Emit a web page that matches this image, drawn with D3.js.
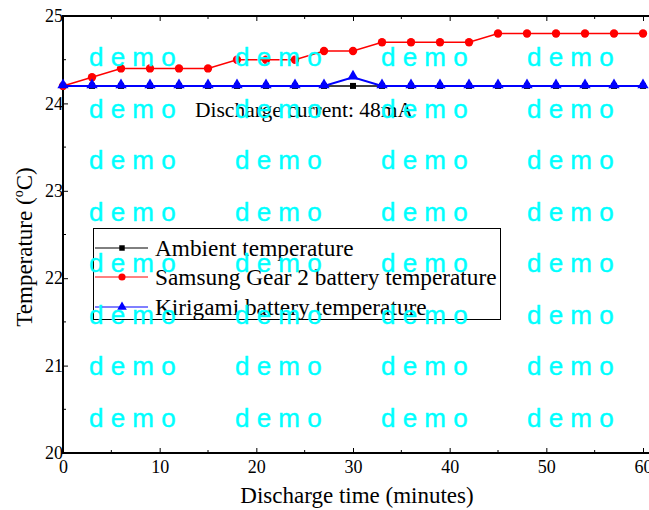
<!DOCTYPE html>
<html><head><meta charset="utf-8">
<script src="https://cdn.jsdelivr.net/npm/d3@7"></script>
<style>
body{margin:0;background:#fff;}
svg{display:block;}
text{font-family:"Liberation Serif","Times New Roman",serif;}
</style></head>
<body>
<script>
const times = [0,3,6,9,12,15,18,21,24,27,30,33,36,39,42,45,48,51,54,57,60];
const ambient = [24.2,24.2,24.2,24.2,24.2,24.2,24.2,24.2,24.2,24.2,24.2,24.2,24.2,24.2,24.2,24.2,24.2,24.2,24.2,24.2,24.2];
const samsung = [24.2,24.3,24.4,24.4,24.4,24.4,24.5,24.5,24.5,24.6,24.6,24.7,24.7,24.7,24.7,24.8,24.8,24.8,24.8,24.8,24.8];
const kirigami = [24.2,24.2,24.2,24.2,24.2,24.2,24.2,24.2,24.2,24.2,24.3,24.2,24.2,24.2,24.2,24.2,24.2,24.2,24.2,24.2,24.2];
const xTicks = [0,10,20,30,40,50,60];
const yTicks = [20,21,22,23,24,25];
const seriesNames = ["Ambient temperature","Samsung Gear 2 battery temperature","Kirigami battery temperature"];
const annotation = "Discharge current: 48mA";
const xTitle = "Discharge time (minutes)";

const W = 649, H = 510;
const svg = d3.select("body").append("svg").attr("width", W).attr("height", H);
const x = d3.scaleLinear().domain([0,60]).range([63,643]);
const y = d3.scaleLinear().domain([20,25]).range([453,16]);

const xMinor = d3.range(5,61,10);
const yMinor = d3.range(20.5,25,1);

const g = svg.append("g");
const xa = g.append("g").attr("transform","translate(0,453)")
  .call(d3.axisBottom(x).tickValues(xTicks).tickSizeInner(-5).tickSizeOuter(0).tickPadding(7).tickFormat(d3.format("d")));
xa.select(".domain").remove();
xa.selectAll("text").attr("font-size",18).attr("fill","#000").attr("font-family","Liberation Serif");
xa.selectAll("line").attr("stroke","#000").attr("stroke-width",1);
g.append("g").attr("transform","translate(0,453)").selectAll("line").data(xMinor).join("line")
  .attr("x1",d=>x(d)).attr("x2",d=>x(d)).attr("y1",0).attr("y2",-3).attr("stroke","#000");
const xt = g.append("g").attr("transform","translate(0,16)")
  .call(d3.axisTop(x).tickValues(xTicks).tickSizeInner(-5).tickSizeOuter(0).tickFormat(""));
xt.select(".domain").remove();
g.append("g").attr("transform","translate(0,16)").selectAll("line").data(xMinor).join("line")
  .attr("x1",d=>x(d)).attr("x2",d=>x(d)).attr("y1",0).attr("y2",3).attr("stroke","#000");

const ya = g.append("g").attr("transform","translate(63,0)")
  .call(d3.axisLeft(y).tickValues(yTicks).tickSizeInner(-5).tickSizeOuter(0).tickPadding(0).tickFormat(d3.format("d")));
ya.select(".domain").remove();
ya.selectAll("text").attr("font-size",18).attr("fill","#000").attr("font-family","Liberation Serif");
g.append("g").attr("transform","translate(63,0)").selectAll("line").data(yMinor).join("line")
  .attr("x1",0).attr("x2",3).attr("y1",d=>y(d)).attr("y2",d=>y(d)).attr("stroke","#000");

g.append("line").attr("x1",63).attr("x2",W).attr("y1",453).attr("y2",453).attr("stroke","#000").attr("stroke-width",2);
g.append("line").attr("x1",63).attr("x2",W).attr("y1",16).attr("y2",16).attr("stroke","#000").attr("stroke-width",2);
g.append("line").attr("x1",63).attr("x2",63).attr("y1",15).attr("y2",454).attr("stroke","#000").attr("stroke-width",2);

const line = d3.line().x(d=>x(d[0])).y(d=>y(d[1]));
function pts(arr){ return times.map((t,i)=>[t,arr[i]]); }
const sq = d3.symbol().type(d3.symbolSquare).size(36);
const ci = d3.symbol().type(d3.symbolCircle).size(55);
const tr = d3.symbol().type(d3.symbolTriangle).size(55);

svg.append("path").attr("d",line(pts(ambient))).attr("fill","none").attr("stroke","#000").attr("stroke-width",1.5);
svg.append("g").selectAll("path").data(pts(ambient)).join("path").attr("d",sq)
  .attr("transform",d=>`translate(${x(d[0])},${y(d[1])})`).attr("fill","#000");
svg.append("path").attr("d",line(pts(samsung))).attr("fill","none").attr("stroke","#f00").attr("stroke-width",1.5);
svg.append("g").selectAll("path").data(pts(samsung)).join("path").attr("d",ci)
  .attr("transform",d=>`translate(${x(d[0])},${y(d[1])})`).attr("fill","#f00");
svg.append("path").attr("d",line(pts(kirigami))).attr("fill","none").attr("stroke","#00f").attr("stroke-width",2);
svg.append("g").selectAll("path").data(pts(kirigami)).join("path").attr("d",tr)
  .attr("transform",d=>`translate(${x(d[0])},${y(d[1])-1})`).attr("fill","#00f");

svg.append("text").attr("x",195).attr("y",117).attr("font-size",21.5).attr("fill","#000").text(annotation);

const lg = svg.append("g");
lg.append("rect").attr("x",93.5).attr("y",228.5).attr("width",407).attr("height",91).attr("fill","#fff").attr("stroke","#000").attr("stroke-width",1);
const lcolors = ["#000","#f00","#00f"];
const lsyms = [d3.symbol().type(d3.symbolSquare).size(30), d3.symbol().type(d3.symbolCircle).size(40), d3.symbol().type(d3.symbolTriangle).size(40)];
const ly = [248,277,307];
seriesNames.forEach((n,i)=>{
  lg.append("line").attr("x1",95).attr("x2",148).attr("y1",ly[i]).attr("y2",ly[i]).attr("stroke",lcolors[i]).attr("stroke-width",1);
  lg.append("path").attr("d",lsyms[i]).attr("transform",`translate(122,${ly[i]})`).attr("fill",lcolors[i]);
  lg.append("text").attr("x",155).attr("y",ly[i]+8).attr("font-size",23.3).attr("fill","#000").text(n);
});

svg.append("text").attr("x",357).attr("y",503).attr("text-anchor","middle").attr("font-size",23).attr("fill","#000").text(xTitle);
const yt = svg.append("text").attr("transform","translate(32,247) rotate(-90)").attr("text-anchor","middle").attr("font-size",23).attr("fill","#000");
yt.append("tspan").text("Temperature (");
yt.append("tspan").attr("font-size",14).attr("dy",-9).text("o");
yt.append("tspan").attr("dy",9).text("C)");

const wmRows = [66,117.5,169,220.5,272,323.5,375,426.5];
const wmCols = [89,235,381,527];
const wm = svg.append("g");
wmRows.forEach(r=>wmCols.forEach(c=>{
  wm.append("text").attr("x",c).attr("y",r).style("font-family","'Liberation Sans', Arial, sans-serif")
    .attr("font-size",26).attr("fill","#00ffff").attr("stroke","#00ffff").attr("stroke-width",0.4)
    .style("white-space","pre").text("d e m o");
}));
</script>
</body></html>
